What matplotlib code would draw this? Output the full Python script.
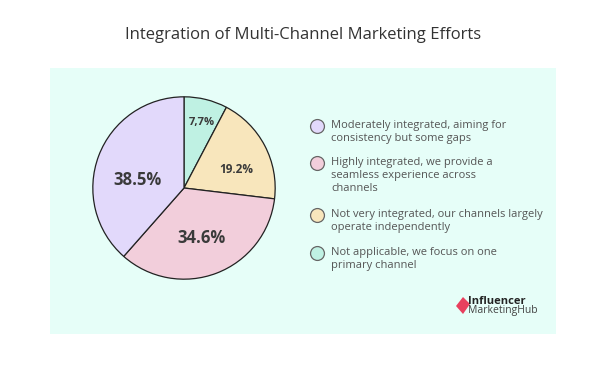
import numpy as np
import matplotlib.pyplot as plt
from matplotlib.patches import Rectangle, Polygon

# data
values = [7.7, 19.2, 34.6, 38.5]
labels = ['7,7%', '19.2%', '34.6%', '38.5%']
colors = ['#BFF1E3', '#F8E6BC', '#F2CEDB', '#E2D9FB']
legend_text = ['Moderately integrated, aiming for\nconsistency but some gaps',
               'Highly integrated, we provide a\nseamless experience across\nchannels',
               'Not very integrated, our channels largely\noperate independently',
               'Not applicable, we focus on one\nprimary channel']
legend_colors = ['#E2D9FB', '#F2CEDB', '#F8E6BC', '#BFF1E3']

plt.rcParams['font.family'] = ['Open Sans', 'DejaVu Sans']
W, H = 606, 368
fig = plt.figure(figsize=(W/100, H/100), dpi=100)
fig.patch.set_facecolor('white')

# background panel
fig.patches.append(Rectangle((50/W, 1-334/H), 506/W, 266/H, transform=fig.transFigure,
                             facecolor='#E6FEF8', edgecolor='none', zorder=-5))

fig.text(303/W, 1-35/H, 'Integration of Multi-Channel Marketing Efforts',
         ha='center', va='center', fontsize=12, color='#333333')

# pie
cx, cy, r = 184, 188, 93
ax = fig.add_axes([(cx-r)/W, (H-cy-r)/H, 2*r/W, 2*r/H], zorder=2)
ax.patch.set_alpha(0)
wedges, _ = ax.pie(values, colors=colors, startangle=90, counterclock=False,
                   wedgeprops=dict(edgecolor='#222222', linewidth=0.9))
ax.set_xlim(-1.02, 1.02)
ax.set_ylim(-1.02, 1.02)
ax.set_aspect('equal')
ax.axis('off')

# label offsets (in pie radii) and sizes
label_pos = [(0.19, 0.72), (0.57, 0.2), (0.19, -0.55), (-0.51, 0.09)]
label_size = [8, 8.5, 12, 12]
for (lx, ly), lab, fs in zip(label_pos, labels, label_size):
    ax.text(lx, ly, lab, ha='center', va='center',
            fontsize=fs, fontweight='bold', color='#3a3a3a')

# legend
ys = [126, 163, 215, 253]
for y, t, c in zip(ys, legend_text, legend_colors):
    fig.add_artist(plt.Line2D([317/W], [1-y/H], marker='o', markersize=10,
                              markerfacecolor=c, markeredgecolor='#666666',
                              markeredgewidth=0.9, linestyle='none'))
    fig.text(331/W, 1-(y-6)/H, t, ha='left', va='top', fontsize=8,
             color='#555555', linespacing=1.25)

# logo
fig.patches.append(Polygon([(456/W, 1-306/H), (463/W, 1-297/H), (470/W, 1-304/H),
                            (463/W, 1-314/H)], closed=True, transform=fig.transFigure,
                           facecolor='#E8405E', edgecolor='none'))
fig.text(468/W, 1-301/H, 'Influencer', fontsize=8, fontweight='bold',
         color='#222222', ha='left', va='center')
fig.text(468/W, 1-311/H, 'MarketingHub', fontsize=7.5, color='#444444',
         ha='left', va='center')

fig.savefig('out.png', dpi=100)
